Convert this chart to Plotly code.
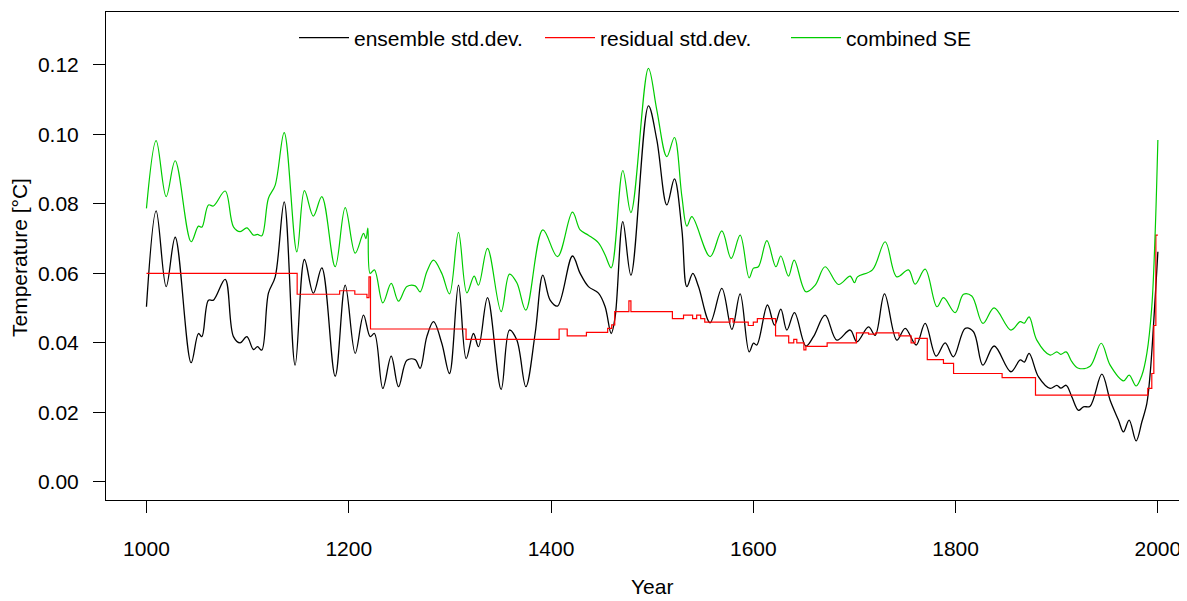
import plotly.graph_objects as go

# ---------------- data ----------------
ens_years = [1000, 1009.6, 1019.5, 1028.4, 1044.2, 1051.4, 1054.8, 1061.3, 1066.2, 1077.8,
             1086, 1092.6, 1099.3, 1105.8, 1109.8, 1114, 1120.6, 1127.3, 1136.2, 1147,
             1156.2, 1165, 1173.4, 1186.6, 1196.5, 1206.4, 1214.6, 1221.2, 1225.4, 1233.7,
             1242, 1249.2, 1257.5, 1265.7, 1270.6, 1277.2, 1283.8, 1292, 1299.6, 1308.5,
             1316.1, 1323.3, 1328.3, 1337.2, 1350.7, 1358.9, 1366.2, 1375.1, 1384.3, 1391.9,
             1399.1, 1406.4, 1421.2, 1428.8, 1437, 1446.9, 1453.5, 1459.5, 1463.4, 1471,
             1479, 1496.3, 1504.6, 1514.5, 1522, 1529.4, 1534.3, 1540.2, 1545.8, 1557.3,
             1568.9, 1578.8, 1587, 1595.9, 1600.2, 1603.5, 1614, 1621, 1627.2, 1633.2,
             1640.7, 1652, 1659.5, 1671, 1682.6, 1695.8, 1702.4, 1713.9, 1720.5, 1729.7,
             1741.9, 1750.2, 1761, 1769.9, 1780.8, 1789.7, 1797.9, 1809.5, 1817.7, 1827,
             1838.1, 1854.7, 1863.9, 1868, 1872.7, 1882, 1893.5, 1900.1, 1904, 1909.3,
             1914.9, 1921.5, 1926.4, 1933, 1944.6, 1952.8, 1961, 1966, 1971.6, 1978.5,
             1984.2, 1989.1, 1992.4, 1995.6, 1998, 2000]
ens_sd = [0.0504, 0.0780, 0.0562, 0.0704, 0.0343, 0.0427, 0.0418, 0.0523, 0.0523, 0.0583,
          0.0418, 0.0400, 0.0418, 0.0381, 0.0389, 0.0379, 0.0543, 0.0590, 0.0806, 0.0336,
          0.0640, 0.0543, 0.0616, 0.0304, 0.0566, 0.0370, 0.0480, 0.0418, 0.0427, 0.0269,
          0.0362, 0.0274, 0.0350, 0.0352, 0.0327, 0.0418, 0.0461, 0.0399, 0.0312, 0.0566,
          0.0355, 0.0427, 0.0389, 0.0530, 0.0266, 0.0437, 0.0408, 0.0274, 0.0427, 0.0595,
          0.0523, 0.0506, 0.0650, 0.0600, 0.0562, 0.0543, 0.0504, 0.0427, 0.0475, 0.0749,
          0.0595, 0.1082, 0.0984, 0.0797, 0.0872, 0.0725, 0.0562, 0.0600, 0.0562, 0.0458,
          0.0557, 0.0439, 0.0541, 0.0374, 0.0399, 0.0394, 0.0509, 0.0451, 0.0497, 0.0437,
          0.0487, 0.0391, 0.0418, 0.0480, 0.0408, 0.0437, 0.0403, 0.0446, 0.0422, 0.0541,
          0.0408, 0.0442, 0.0394, 0.0456, 0.0362, 0.0400, 0.0360, 0.0442, 0.0432, 0.0336,
          0.0391, 0.0317, 0.0351, 0.0345, 0.0370, 0.0302, 0.0269, 0.0278, 0.0270, 0.0278,
          0.0245, 0.0206, 0.0216, 0.0218, 0.0310, 0.0235, 0.0178, 0.0144, 0.0178, 0.0118,
          0.0173, 0.0226, 0.0312, 0.0446, 0.0562, 0.0662]

se_years = [1000, 1009.6, 1019.5, 1028.4, 1044.2, 1051.4, 1054.8, 1061.3, 1066.2, 1077.8,
            1086, 1092.6, 1099.3, 1105.8, 1109.8, 1114, 1120.6, 1127.3, 1136.2, 1148.7,
            1156.2, 1165, 1173.4, 1186.6, 1196.5, 1206.4, 1214.6, 1217, 1218.9, 1221.2,
            1225.4, 1233.7, 1242, 1249.2, 1257.5, 1265.7, 1270.6, 1277.2, 1283.8, 1292,
            1299.6, 1308.5, 1316.8, 1324, 1328.3, 1337.2, 1350.7, 1358.9, 1366.2, 1375.1,
            1391.9, 1406.4, 1421.2, 1428.8, 1437, 1446.9, 1453.5, 1459.5, 1471, 1479,
            1496.3, 1504.6, 1514.5, 1522, 1529.4, 1534.3, 1539.3, 1557.3, 1568.9, 1578.1,
            1587, 1595.9, 1600.2, 1605, 1613.4, 1622.3, 1627.2, 1634.8, 1640.4, 1652,
            1661.2, 1671, 1684.2, 1695.7, 1700, 1703, 1717.8, 1730.4, 1741.9, 1753.4,
            1760, 1769.9, 1781.6, 1788.1, 1799.6, 1807.8, 1816, 1827, 1838.1, 1854.7,
            1863.9, 1868, 1872.7, 1880.3, 1893.5, 1900.1, 1904, 1909.3, 1914.9, 1921.5,
            1933, 1944, 1952.8, 1966, 1971.6, 1978.5, 1984.2, 1989.1, 1994, 1997.3, 2000]
se_comb = [0.0787, 0.0982, 0.0821, 0.0924, 0.0691, 0.0736, 0.0733, 0.0797, 0.0794, 0.0837,
           0.0734, 0.0720, 0.0731, 0.0710, 0.0712, 0.0708, 0.0816, 0.0854, 0.1005, 0.0662,
           0.0838, 0.0765, 0.0821, 0.0619, 0.0789, 0.0658, 0.0715, 0.0700, 0.0730, 0.0600,
           0.0610, 0.0515, 0.0571, 0.0520, 0.0562, 0.0564, 0.0547, 0.0605, 0.0638, 0.0600,
           0.0541, 0.0718, 0.0544, 0.0592, 0.0566, 0.0672, 0.0490, 0.0598, 0.0573, 0.0494,
           0.0725, 0.0648, 0.0776, 0.0725, 0.0710, 0.0688, 0.0653, 0.0616, 0.0896, 0.0775,
           0.1190, 0.1070, 0.0936, 0.0991, 0.0821, 0.0736, 0.0763, 0.0648, 0.0722, 0.0643,
           0.0710, 0.0587, 0.0615, 0.0619, 0.0694, 0.0619, 0.0650, 0.0592, 0.0638, 0.0547,
           0.0566, 0.0619, 0.0568, 0.0592, 0.0573, 0.0590, 0.0610, 0.0691, 0.0590, 0.0610,
           0.0569, 0.0612, 0.0504, 0.0530, 0.0487, 0.0540, 0.0535, 0.0456, 0.0501, 0.0437,
           0.0461, 0.0457, 0.0475, 0.0408, 0.0365, 0.0374, 0.0367, 0.0374, 0.0346, 0.0327,
           0.0333, 0.0399, 0.0336, 0.0291, 0.0307, 0.0276, 0.0307, 0.0370, 0.0504, 0.0715, 0.0984]

res_years = [1000, 1149, 1191, 1206, 1218, 1220, 1221.5, 1316, 1408, 1416,
             1435, 1456, 1460, 1463, 1477, 1479, 1520, 1531, 1540, 1544,
             1548, 1552, 1577, 1580, 1595, 1600, 1604, 1622, 1635, 1640,
             1643, 1650, 1652, 1673, 1702, 1714, 1721, 1744, 1756, 1760,
             1772, 1788, 1798, 1846, 1879, 1990, 1994, 1996, 1998, 2000]
res_sd = [0.060, 0.054, 0.055, 0.054, 0.053, 0.059, 0.044, 0.041, 0.044, 0.042,
          0.043, 0.0442, 0.0452, 0.049, 0.0521, 0.049, 0.047, 0.048, 0.047, 0.048,
          0.047, 0.046, 0.047, 0.046, 0.045, 0.046, 0.047, 0.042, 0.040, 0.041,
          0.040, 0.038, 0.039, 0.040, 0.0429, 0.0425, 0.0429, 0.042, 0.040, 0.0413,
          0.0352, 0.0341, 0.0312, 0.030, 0.025, 0.0269, 0.0312, 0.045, 0.071, 0.071]

x_ticks = [1000, 1200, 1400, 1600, 1800, 2000]
y_ticks = [0.00, 0.02, 0.04, 0.06, 0.08, 0.10, 0.12]
y_tick_text = ["0.00", "0.02", "0.04", "0.06", "0.08", "0.10", "0.12"]

FONT = "Liberation Sans, Arial, sans-serif"
FS = 21

# The page body has an 8 px margin, so the figure is placed at (8, 8).
W, H = 1179, 593
L, T, B = 98, 4, 101
PW = W - L          # plot width in px
PH = H - T - B      # plot height in px

fig = go.Figure()
fig.add_trace(go.Scatter(x=ens_years, y=ens_sd, mode="lines", name="ensemble std.dev.",
                         line=dict(color="#000000", width=1.3, shape="spline", smoothing=1.0)))
fig.add_trace(go.Scatter(x=res_years, y=res_sd, mode="lines", name="residual std.dev.",
                         line=dict(color="#FF0000", width=1.2, shape="hv")))
fig.add_trace(go.Scatter(x=se_years, y=se_comb, mode="lines", name="combined SE",
                         line=dict(color="#00CC00", width=1.2, shape="spline", smoothing=1.0)))

fig.update_layout(
    width=W, height=H,
    margin=dict(l=L, r=0, t=T, b=B, autoexpand=False),
    paper_bgcolor="white", plot_bgcolor="white",
    font=dict(family=FONT, size=FS, color="black"),
    showlegend=True,
    legend=dict(orientation="h", x=(286 - L) / PW, xanchor="left",
                y=(PH + T - 30) / PH, yanchor="middle",
                font=dict(size=FS, family=FONT, color="black"),
                bgcolor="rgba(0,0,0,0)", borderwidth=0,
                itemwidth=50, entrywidth=181, entrywidthmode="pixels",
                tracegroupgap=0),
    xaxis=dict(range=[960, 2028.8], tickmode="array", tickvals=x_ticks,
               ticks="outside", ticklen=12, tickwidth=1, tickcolor="black",
               showline=True, linecolor="black", linewidth=1, mirror=True,
               showgrid=False, zeroline=False, ticklabelstandoff=18,
               tickfont=dict(size=FS, family=FONT, color="black")),
    yaxis=dict(range=[-0.0052, 0.1352], tickmode="array", tickvals=y_ticks,
               ticktext=y_tick_text,
               ticks="outside", ticklen=12, tickwidth=1, tickcolor="black",
               showline=True, linecolor="black", linewidth=1, mirror=False,
               showgrid=False, zeroline=False, ticklabelstandoff=10,
               tickfont=dict(size=FS, family=FONT, color="black")),
    annotations=[
        dict(text="Year", xref="paper", yref="paper", x=(644 - L) / PW, y=0,
             xanchor="center", yanchor="bottom", yshift=-(B - 1), showarrow=False,
             font=dict(size=FS, family=FONT, color="black")),
        dict(text="Temperature [°C]", xref="paper", yref="paper", x=0,
             y=(PH + T - 250) / PH,
             xanchor="center", yanchor="middle", xshift=-(L - 12), textangle=-90,
             showarrow=False, font=dict(size=FS, family=FONT, color="black")),
    ],
)

fig.write_html("out.html")
